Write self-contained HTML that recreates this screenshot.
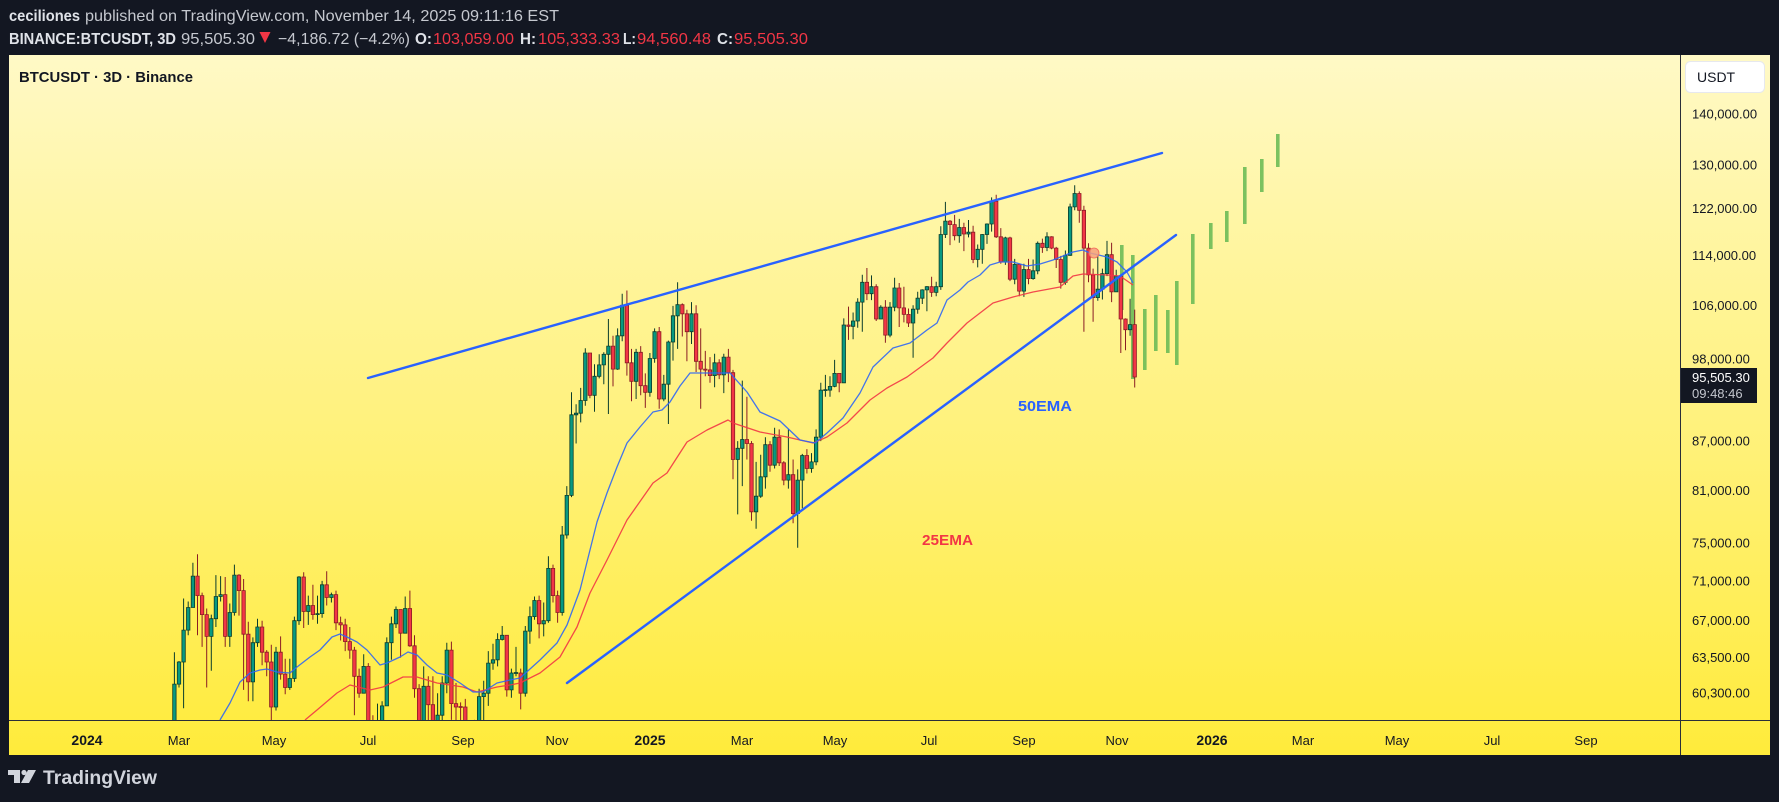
<!DOCTYPE html>
<html><head><meta charset="utf-8">
<style>
html,body{margin:0;padding:0;background:#131722;width:1779px;height:802px;overflow:hidden}
svg{display:block}
.gw{stroke:#0b3d2c;stroke-width:1;fill:none}
.rw{stroke:#8a1c24;stroke-width:1;fill:none}
.gb{fill:#089981;stroke:#0b3d2c;stroke-width:.8}
.rb{fill:#f23645;stroke:#8a1c24;stroke-width:.8}
</style></head>
<body>
<svg width="1779" height="802" xmlns="http://www.w3.org/2000/svg" font-family="'Liberation Sans', sans-serif">
<defs>
<linearGradient id="bg" x1="0" y1="0" x2="0" y2="1">
<stop offset="0" stop-color="#FFF9C6"/><stop offset="1" stop-color="#FFEB3B"/>
</linearGradient>
<clipPath id="clip"><rect x="9" y="55" width="1671" height="665"/></clipPath>
</defs>
<rect x="0" y="0" width="1779" height="802" fill="#131722"/>
<rect x="9" y="55" width="1761" height="700" fill="url(#bg)"/>

<g clip-path="url(#clip)">
<!-- projection bars -->
<g fill="#6dbb57" fill-opacity="0.9">
<rect x="1120" y="245" width="3.6" height="65"/>
<rect x="1131" y="255" width="3.6" height="124"/>
<rect x="1143" y="309" width="3.6" height="61"/>
<rect x="1154" y="295" width="3.6" height="56"/>
<rect x="1166" y="310" width="3.6" height="43"/>
<rect x="1175" y="281" width="3.6" height="84"/>
<rect x="1191" y="234" width="3.6" height="70"/>
<rect x="1209" y="223" width="3.6" height="26"/>
<rect x="1225" y="211" width="3.6" height="31"/>
<rect x="1243" y="167" width="3.6" height="57"/>
<rect x="1260" y="159" width="3.6" height="33"/>
<rect x="1276" y="134" width="3.6" height="33"/>
</g>

<!-- candles: green wicks -->
<path class="gw" d="M174.4 652.2V763M179 661V687.5M183.6 598.5V708.2M188.2 601.5V635.3M192.9 562.7V607.5M211.3 614.6V670.8M215.9 575.1V627M220.6 576.1V601.5M229.8 603.5V646.9M234.4 564.6V615.6M252.9 637.4V701.2M257.5 618.7V646.9M276 646.9V710.5M289.8 658.7V689.9M294.4 616.6V681.9M299 576.1V624.9M308.3 595.6V624.9M317.5 595.6V623.8M322.1 580.9V617.7M331.4 592.6V602.5M363.7 654.3V693.2M377.5 703.6V766M382.1 701.2V738M386.8 637.4V705.9M391.4 616.6V659.8M396 606.5V628M405.2 596.5V633.2M423.7 666.4V759M437.6 693.2V724.6M442.2 676.3V721M446.8 642.7V693.2M474.5 719.9V760M479.1 688.7V727M483.7 680.8V724.6M488.3 651.1V705.9M493 643.7V669.7M497.6 633.2V666.4M502.2 626V640.5M511.4 668.6V697.7M516 646.9V676.3M525.3 626V696.6M529.9 606.5V643.7M534.5 596.5V619.7M543.7 602.5V636.4M548.4 556.2V622.8M562.2 526V615.6M566.8 486.1V538.6M571.5 392.3V497.1M576.1 404.2V443.5M580.7 387.9V422.4M585.3 348.2V405.7M594.5 364.2V411.7M599.2 354.3V378.4M603.8 352.3V384.2M608.4 319V414M617.6 328.4V369.9M622.2 293.7V341.3M636.1 348.9V399M649.9 353V396.8M654.6 328.4V362.8M663.8 374.9V401.2M668.4 340.6V424M673 305.9V360.6M677.6 282.3V348.9M691.5 302.1V344M714.6 353.7V387.2M723.8 353.7V393.1M737.7 441.1V514.4M742.3 380.6V486.1M756.1 461.9V528.7M760.7 454.7V497.9M765.4 437.2V488.6M774.6 427.8V468.5M788.4 429.4V488.6M797.7 469.4V547.8M802.3 453.9V508.3M811.5 453.1V472.7M816.1 429.4V465.2M820.8 382.8V441.1M825.4 374.9V396.8M830 376.3V396.8M834.6 359.9V387.2M843.8 318.4V374.9M853.1 312.5V339.2M857.7 298.2V327.7M862.3 274.8V331.7M871.5 275.4V300.1M880.8 305.3V319M890 302.1V337.2M894.6 277.7V311.2M913.1 305.3V357.8M917.7 291.8V313.8M922.3 289.2V304M926.9 286.1V311.2M936.2 281.7V296.3M940.8 226.3V289.9M945.4 201.9V238M959.3 218.9V242.7M968.5 220V237.4M977.7 244.5V267.4M982.3 234V263.7M987 223.4V243.9M991.6 197.4V231.6M1005.4 236.8V264.9M1014.7 258.9V284.2M1023.9 263.7V296.9M1033.1 259.5V279.8M1037.7 241.5V274.2M1047 232.2V251.1M1065.4 250.5V284.8M1070.1 203.6V255.9M1074.7 185.3V210.3M1097.8 255.3V300.8M1102.4 268.6V299.5M1107 240.9V276.1M1116.2 269.8V289.9M1130.1 298.8V335.8"/>
<!-- red wicks -->
<path class="rw" d="M197.5 554.3V635.3M202.1 592.6V646.9M206.7 608.5V687.5M225.2 577V646.9M239 574.1V615.6M243.6 579V689.9M248.3 621.7V701.2M262.1 620.7V665.3M266.7 650.1V676.3M271.3 644.8V738M280.6 636.4V679.6M285.2 658.7V694.3M303.7 572.2V628M312.9 584.8V619.7M326.7 571.2V605.5M336 590.6V630.1M340.6 616.6V640.5M345.2 618.7V651.1M349.8 627V658.7M354.4 646.9V715.2M359.1 668.6V697.7M368.3 663.1V734M372.9 715.2V770M400.6 609.5V657.6M409.9 590.6V646.9M414.5 635.3V697.7M419.1 684.1V836M428.3 676.3V724.6M432.9 676.3V732M451.4 641.6V719.9M456 683V721M460.6 702.4V729M465.3 698.9V748M469.9 732V790M506.8 635.3V696.6M520.7 668.6V709.4M539.1 595.6V638.4M553 564.6V602.5M557.6 590.6V622.8M589.9 353.7V398.3M613 335.8V386.4M626.9 290.5V375.6M631.5 348.9V401.2M640.7 346.1V395.3M645.3 373.4V407.9M659.2 327V408.7M682.3 303.4V336.5M686.9 309.8V361.3M696.1 305.3V372M700.7 328.4V408.7M705.3 350.9V376.3M710 357.1V382.8M719.2 359.2V379.1M728.4 348.9V382.1M733 369.9V479.3M746.9 396.8V459.5M751.5 441.1V520.7M770 441.1V471.8M779.2 429.4V466M783.8 461.1V485.2M793.1 459.5V523.3M806.9 449.1V473.5M839.2 373.4V392.3M848.5 306.6V339.9M866.9 268V300.1M876.2 284.2V321M885.4 300.1V342.7M899.2 283V327M903.9 286.7V322.4M908.5 308.5V327M931.6 276.7V296.9M950 220V245.1M954.6 214.9V240.4M963.9 222.8V251.1M973.1 225.7V263.1M996.2 194.7V238M1000.8 228.1V263.7M1010 236.8V281.1M1019.3 263.7V296.3M1028.5 258.9V284.2M1042.4 238.6V252.9M1051.6 236.2V249.3M1056.2 246.9V268M1060.8 255.9V288.6M1079.3 191.4V222.8M1083.9 205.8V331.7M1088.5 243.3V282.3M1093.1 268.6V321.7M1111.6 242.7V302.1M1120.8 274.8V353M1125.5 318.4V350.2M1134.7 309.6V387.5"/>
<!-- green bodies -->
<path class="gb" d="M172.7 684.1h3.4v78.9h-3.4zM177.3 662h3.4v22.1h-3.4zM181.9 630.1h3.4v31.9h-3.4zM186.5 607.5h3.4v22.6h-3.4zM191.2 576.1h3.4v31.4h-3.4zM209.6 618.7h3.4v17.7h-3.4zM214.2 596.5h3.4v22.2h-3.4zM218.9 594.6h3.4v1.9h-3.4zM228.1 612.5h3.4v23.9h-3.4zM232.7 575.1h3.4v37.4h-3.4zM251.2 642.7h3.4v39.2h-3.4zM255.8 627h3.4v15.7h-3.4zM274.3 652.2h3.4v54.8h-3.4zM288.1 678.5h3.4v9h-3.4zM292.7 620.7h3.4v57.8h-3.4zM297.3 577h3.4v43.7h-3.4zM306.6 605.5h3.4v6h-3.4zM315.8 613.6h3.4v1h-3.4zM320.4 584.8h3.4v28.8h-3.4zM329.7 594.6h3.4v2.9h-3.4zM362 666.4h3.4v26.8h-3.4zM375.8 722h3.4v24h-3.4zM380.4 705.9h3.4v16.1h-3.4zM385.1 642.7h3.4v63.2h-3.4zM389.7 623.8h3.4v18.9h-3.4zM394.3 609.5h3.4v14.3h-3.4zM403.5 608.5h3.4v24.7h-3.4zM422 686.3h3.4v57.7h-3.4zM435.9 715.2h3.4v9.4h-3.4zM440.5 683h3.4v32.2h-3.4zM445.1 650.1h3.4v32.9h-3.4zM472.8 727h3.4v30h-3.4zM477.4 696.6h3.4v30.4h-3.4zM482 693.2h3.4v3.4h-3.4zM486.6 663.1h3.4v30.1h-3.4zM491.3 659.8h3.4v3.3h-3.4zM495.9 639.5h3.4v20.3h-3.4zM500.5 635.3h3.4v4.2h-3.4zM509.7 673h3.4v16.9h-3.4zM514.3 672.5h3.4v1h-3.4zM523.6 631.1h3.4v62.1h-3.4zM528.2 616.6h3.4v14.5h-3.4zM532.8 600.5h3.4v16.1h-3.4zM542 620.7h3.4v3.1h-3.4zM546.7 568.4h3.4v52.3h-3.4zM560.5 535h3.4v77.5h-3.4zM565.1 495.4h3.4v39.6h-3.4zM569.8 414.8h3.4v80.6h-3.4zM574.4 413.2h3.4v1.6h-3.4zM579 400.5h3.4v12.7h-3.4zM583.6 353h3.4v47.5h-3.4zM592.8 376.3h3.4v19h-3.4zM597.5 364.9h3.4v11.4h-3.4zM602.1 354.3h3.4v10.6h-3.4zM606.7 346.1h3.4v8.2h-3.4zM615.9 335.8h3.4v33.3h-3.4zM620.5 305.3h3.4v30.5h-3.4zM634.4 352.3h3.4v29h-3.4zM648.2 358.5h3.4v33.8h-3.4zM652.9 331.7h3.4v26.8h-3.4zM662.1 384.2h3.4v14.8h-3.4zM666.7 342h3.4v42.2h-3.4zM671.3 315.8h3.4v26.2h-3.4zM675.9 304.7h3.4v11.1h-3.4zM689.8 313.8h3.4v17.9h-3.4zM712.9 362.8h3.4v12.8h-3.4zM722.1 357.1h3.4v17.8h-3.4zM736 448.3h3.4v11.2h-3.4zM740.6 439.5h3.4v8.8h-3.4zM754.4 496.2h3.4v15.6h-3.4zM759 476.8h3.4v19.4h-3.4zM763.7 444.7h3.4v32.1h-3.4zM772.9 437.2h3.4v28h-3.4zM786.7 474.7h3.4v5.4h-3.4zM796 480.1h3.4v33.5h-3.4zM800.6 455.5h3.4v24.6h-3.4zM809.8 461.9h3.4v6.6h-3.4zM814.4 437.2h3.4v24.7h-3.4zM819.1 390.1h3.4v47.1h-3.4zM823.7 389.6h3.4v1h-3.4zM828.3 386.4h3.4v3.7h-3.4zM832.9 373.4h3.4v13h-3.4zM842.1 325h3.4v57.8h-3.4zM851.4 321h3.4v5.3h-3.4zM856 302.1h3.4v18.9h-3.4zM860.6 282.3h3.4v19.8h-3.4zM869.8 286.7h3.4v7h-3.4zM879.1 307.2h3.4v11.8h-3.4zM888.3 307.2h3.4v27.9h-3.4zM892.9 288h3.4v19.2h-3.4zM911.4 309.2h3.4v13.8h-3.4zM916 298.2h3.4v11h-3.4zM920.6 289.9h3.4v8.3h-3.4zM925.2 286.7h3.4v3.2h-3.4zM934.5 286.7h3.4v5.7h-3.4zM939.1 234.5h3.4v52.2h-3.4zM943.7 221.1h3.4v13.4h-3.4zM957.6 227.5h3.4v8.2h-3.4zM966.8 232.2h3.4v1.8h-3.4zM976 249.3h3.4v10.2h-3.4zM980.6 234.5h3.4v14.8h-3.4zM985.3 224h3.4v10.5h-3.4zM989.9 201.3h3.4v22.7h-3.4zM1003.7 237.9h3.4v24h-3.4zM1013 264.4h3.4v14.8h-3.4zM1022.2 269.5h3.4v21.6h-3.4zM1031.4 270.8h3.4v7.8h-3.4zM1036 243.3h3.4v27.5h-3.4zM1045.3 236.8h3.4v10.7h-3.4zM1063.7 255.3h3.4v27h-3.4zM1068.4 206.9h3.4v48.4h-3.4zM1073 193.5h3.4v13.4h-3.4zM1096.1 289.2h3.4v8.4h-3.4zM1100.7 273.6h3.4v15.6h-3.4zM1105.3 254.7h3.4v18.9h-3.4zM1114.5 276.1h3.4v15.7h-3.4zM1128.4 324.6h3.4v5.1h-3.4z"/>
<!-- red bodies -->
<path class="rb" d="M195.8 576.1h3.4v19.5h-3.4zM200.4 595.6h3.4v19h-3.4zM205 614.6h3.4v21.8h-3.4zM223.5 594.6h3.4v41.8h-3.4zM237.3 575.1h3.4v15.5h-3.4zM241.9 590.6h3.4v43.6h-3.4zM246.6 634.2h3.4v47.7h-3.4zM260.4 627h3.4v25.2h-3.4zM265 652.2h3.4v9.8h-3.4zM269.6 662h3.4v45h-3.4zM278.9 652.2h3.4v21.9h-3.4zM283.5 674.1h3.4v13.4h-3.4zM302 577h3.4v34.5h-3.4zM311.2 605.5h3.4v9.1h-3.4zM325 584.8h3.4v12.7h-3.4zM334.3 594.6h3.4v28.2h-3.4zM338.9 622.8h3.4v2.1h-3.4zM343.5 624.9h3.4v16.7h-3.4zM348.1 641.6h3.4v8.5h-3.4zM352.7 650.1h3.4v26.2h-3.4zM357.4 676.3h3.4v16.9h-3.4zM366.6 666.4h3.4v65.6h-3.4zM371.2 732h3.4v14h-3.4zM398.9 609.5h3.4v23.7h-3.4zM408.2 608.5h3.4v37.3h-3.4zM412.8 645.8h3.4v42.9h-3.4zM417.4 688.7h3.4v55.3h-3.4zM426.6 686.3h3.4v18.4h-3.4zM431.2 704.7h3.4v19.9h-3.4zM449.7 650.1h3.4v53.5h-3.4zM454.3 703.6h3.4v3.4h-3.4zM458.9 706.5h3.4v1h-3.4zM463.6 707h3.4v33h-3.4zM468.2 740h3.4v17h-3.4zM505.1 635.3h3.4v54.6h-3.4zM519 673h3.4v20.2h-3.4zM537.4 600.5h3.4v23.3h-3.4zM551.3 568.4h3.4v27.2h-3.4zM555.9 595.6h3.4v16.9h-3.4zM588.2 353h3.4v42.3h-3.4zM611.3 346.1h3.4v23h-3.4zM625.2 305.3h3.4v57.5h-3.4zM629.8 362.8h3.4v18.5h-3.4zM639 352.3h3.4v33.4h-3.4zM643.6 385.7h3.4v6.6h-3.4zM657.5 331.7h3.4v67.3h-3.4zM680.6 304.7h3.4v9.1h-3.4zM685.2 313.8h3.4v17.9h-3.4zM694.4 313.8h3.4v47.5h-3.4zM699 361.3h3.4v7.8h-3.4zM703.6 369.1h3.4v1h-3.4zM708.3 369.9h3.4v5.7h-3.4zM717.5 362.8h3.4v12.1h-3.4zM726.7 357.1h3.4v15.6h-3.4zM731.3 372.7h3.4v86.8h-3.4zM745.2 439.5h3.4v4h-3.4zM749.8 443.5h3.4v68.3h-3.4zM768.3 444.7h3.4v20.5h-3.4zM777.5 437.2h3.4v25.6h-3.4zM782.1 462.8h3.4v17.3h-3.4zM791.4 474.7h3.4v38.9h-3.4zM805.2 455.5h3.4v13h-3.4zM837.5 373.4h3.4v9.4h-3.4zM846.8 325h3.4v1.3h-3.4zM865.2 282.3h3.4v11.4h-3.4zM874.5 286.7h3.4v32.3h-3.4zM883.7 307.2h3.4v27.9h-3.4zM897.5 288h3.4v19.9h-3.4zM902.2 307.9h3.4v6.5h-3.4zM906.8 314.4h3.4v8.6h-3.4zM929.9 286.7h3.4v5.7h-3.4zM948.3 221.1h3.4v3.5h-3.4zM952.9 224.6h3.4v11.1h-3.4zM962.2 227.5h3.4v6.5h-3.4zM971.4 232.2h3.4v27.3h-3.4zM994.5 201.3h3.4v35.5h-3.4zM999.1 236.8h3.4v25.1h-3.4zM1008.3 237.9h3.4v41.3h-3.4zM1017.6 264.4h3.4v26.7h-3.4zM1026.8 269.5h3.4v9.1h-3.4zM1040.7 243.3h3.4v4.2h-3.4zM1049.9 236.8h3.4v11.3h-3.4zM1054.5 248.1h3.4v11.4h-3.4zM1059.1 259.5h3.4v22.8h-3.4zM1077.6 193.5h3.4v16.8h-3.4zM1082.2 210.3h3.4v37.8h-3.4zM1086.8 248.1h3.4v26.7h-3.4zM1091.4 274.8h3.4v22.8h-3.4zM1109.9 254.7h3.4v37.1h-3.4zM1119.1 276.1h3.4v42.9h-3.4zM1123.8 319h3.4v10.7h-3.4zM1133 324.6h3.4v52.4h-3.4z"/>

<!-- EMAs -->
<polyline fill="none" stroke="#f23645" stroke-width="1.3" stroke-opacity="0.9" stroke-linejoin="round" points="305,720 317,710 337,693 350,685 370,690 383,687 403,677 417,677 437,683 463,687 477,692 497,687 510,685 520,683 540,673 560,657 577,627 590,593 607,560 627,520 653,483 667,473 687,442 707,430 728,420 733,423 760,432 787,437 813,443 827,437 847,423 870,400 887,388 907,377 933,358 947,343 967,323 993,303 1013,297 1033,292 1060,287 1073,276 1083,274 1107,275 1120,276 1133,285"/>
<polyline fill="none" stroke="#2f66f5" stroke-width="1.3" stroke-opacity="0.9" stroke-linejoin="round" points="220,720 230,703 240,682 250,673 260,670 267,669 277,672 290,673 297,667 310,657 320,650 332,637 340,634 347,637 357,642 367,650 380,665 387,663 400,657 408,652 417,655 427,665 437,673 447,675 460,683 473,692 483,692 497,683 510,680 520,678 540,660 557,643 567,625 580,590 590,550 597,522 607,493 617,467 627,443 640,427 653,412 662,410 670,402 680,386 690,373 730,373 747,392 760,412 780,421 800,440 815,443 827,433 843,418 860,393 873,367 893,348 910,343 927,330 937,323 947,300 960,290 968,282 980,275 990,265 1000,262 1013,262 1027,266 1040,264 1053,260 1073,252 1083,250 1090,253 1107,257 1117,262 1127,272 1133,283"/>

<circle cx="1094" cy="253" r="5" fill="#f6a07e" fill-opacity="0.85" stroke="#f26a5a" stroke-width="0.8"/>

<!-- trend lines -->
<line x1="368" y1="378" x2="1162" y2="153" stroke="#2962FF" stroke-width="2.4" stroke-linecap="round"/>
<line x1="567" y1="683" x2="1176" y2="235" stroke="#2962FF" stroke-width="2.4" stroke-linecap="round"/>

<text x="1018" y="411" font-size="15" font-weight="bold" fill="#2962FF" textLength="54" lengthAdjust="spacingAndGlyphs">50EMA</text>
<text x="922" y="545" font-size="15" font-weight="bold" fill="#f23645" textLength="51" lengthAdjust="spacingAndGlyphs">25EMA</text>
</g>

<line x1="1680.5" y1="55" x2="1680.5" y2="755" stroke="#2a2e39" stroke-width="1"/>
<line x1="9" y1="720.5" x2="1770" y2="720.5" stroke="#2a2e39" stroke-width="1"/>

<!-- header -->
<text x="9" y="21" font-size="16" font-weight="bold" fill="#dfe2e8" textLength="71" lengthAdjust="spacingAndGlyphs">ceciliones</text>
<text x="85" y="21" font-size="16" fill="#c5c8cf" textLength="474" lengthAdjust="spacingAndGlyphs">published on TradingView.com, November 14, 2025 09:11:16 EST</text>
<text x="9" y="44" font-size="16" font-weight="bold" fill="#dfe2e8" textLength="167" lengthAdjust="spacingAndGlyphs">BINANCE:BTCUSDT, 3D</text>
<text x="181" y="44" font-size="16" fill="#c5c8cf" textLength="74" lengthAdjust="spacingAndGlyphs">95,505.30</text>
<polygon points="259.5,32 270.5,32 265,43" fill="#f23645"/>
<text x="278" y="44" font-size="16" fill="#c5c8cf" textLength="132" lengthAdjust="spacingAndGlyphs">−4,186.72 (−4.2%)</text>
<text x="415" y="44" font-size="16" font-weight="bold" fill="#dfe2e8" textLength="17" lengthAdjust="spacingAndGlyphs">O:</text>
<text x="433" y="44" font-size="16" fill="#f23645" textLength="81" lengthAdjust="spacingAndGlyphs">103,059.00</text>
<text x="520" y="44" font-size="16" font-weight="bold" fill="#dfe2e8" textLength="16" lengthAdjust="spacingAndGlyphs">H:</text>
<text x="538" y="44" font-size="16" fill="#f23645" textLength="82" lengthAdjust="spacingAndGlyphs">105,333.33</text>
<text x="623" y="44" font-size="16" font-weight="bold" fill="#dfe2e8" textLength="13" lengthAdjust="spacingAndGlyphs">L:</text>
<text x="637" y="44" font-size="16" fill="#f23645" textLength="74" lengthAdjust="spacingAndGlyphs">94,560.48</text>
<text x="717" y="44" font-size="16" font-weight="bold" fill="#dfe2e8" textLength="16" lengthAdjust="spacingAndGlyphs">C:</text>
<text x="734" y="44" font-size="16" fill="#f23645" textLength="74" lengthAdjust="spacingAndGlyphs">95,505.30</text>

<text x="19" y="82" font-size="15" font-weight="bold" fill="#131722" textLength="174" lengthAdjust="spacingAndGlyphs">BTCUSDT · 3D · Binance</text>

<rect x="1685.5" y="61.5" width="79" height="31" rx="5" fill="#ffffff" stroke="#e6e8ee"/>
<text x="1697" y="82" font-size="14" fill="#131722">USDT</text>

<!-- price axis -->
<g font-size="13" fill="#131722">
<text x="1692" y="118.5">140,000.00</text>
<text x="1692" y="169.5">130,000.00</text>
<text x="1692" y="213">122,000.00</text>
<text x="1692" y="260">114,000.00</text>
<text x="1692" y="310">106,000.00</text>
<text x="1692" y="363.5">98,000.00</text>
<text x="1692" y="445.5">87,000.00</text>
<text x="1692" y="495">81,000.00</text>
<text x="1692" y="547.5">75,000.00</text>
<text x="1692" y="585.5">71,000.00</text>
<text x="1692" y="625">67,000.00</text>
<text x="1692" y="662">63,500.00</text>
<text x="1692" y="697.5">60,300.00</text>
</g>

<!-- time axis -->
<g font-size="13" fill="#131722" text-anchor="middle">
<text x="87" y="745" font-weight="bold" font-size="14">2024</text>
<text x="179" y="745">Mar</text>
<text x="274" y="745">May</text>
<text x="368" y="745">Jul</text>
<text x="463" y="745">Sep</text>
<text x="557" y="745">Nov</text>
<text x="650" y="745" font-weight="bold" font-size="14">2025</text>
<text x="742" y="745">Mar</text>
<text x="835" y="745">May</text>
<text x="929" y="745">Jul</text>
<text x="1024" y="745">Sep</text>
<text x="1117" y="745">Nov</text>
<text x="1212" y="745" font-weight="bold" font-size="14">2026</text>
<text x="1303" y="745">Mar</text>
<text x="1397" y="745">May</text>
<text x="1492" y="745">Jul</text>
<text x="1586" y="745">Sep</text>
</g>

<!-- current price label -->
<rect x="1681" y="368" width="76" height="35" fill="#131722"/>
<text x="1692" y="382" font-size="13" fill="#ffffff">95,505.30</text>
<text x="1692" y="398" font-size="13" fill="#c3c6ce">09:48:46</text>

<!-- TradingView logo -->
<g fill="#d1d4dc">
<rect x="8" y="770" width="12" height="5"/>
<rect x="14" y="770" width="6" height="13"/>
<circle cx="24" cy="772.5" r="2.6"/>
<polygon points="28,770 36,770 29,783 21,783"/>
</g>
<text x="43" y="784" font-size="19" font-weight="bold" fill="#d1d4dc" textLength="114" lengthAdjust="spacingAndGlyphs">TradingView</text>
</svg>
</body></html>
